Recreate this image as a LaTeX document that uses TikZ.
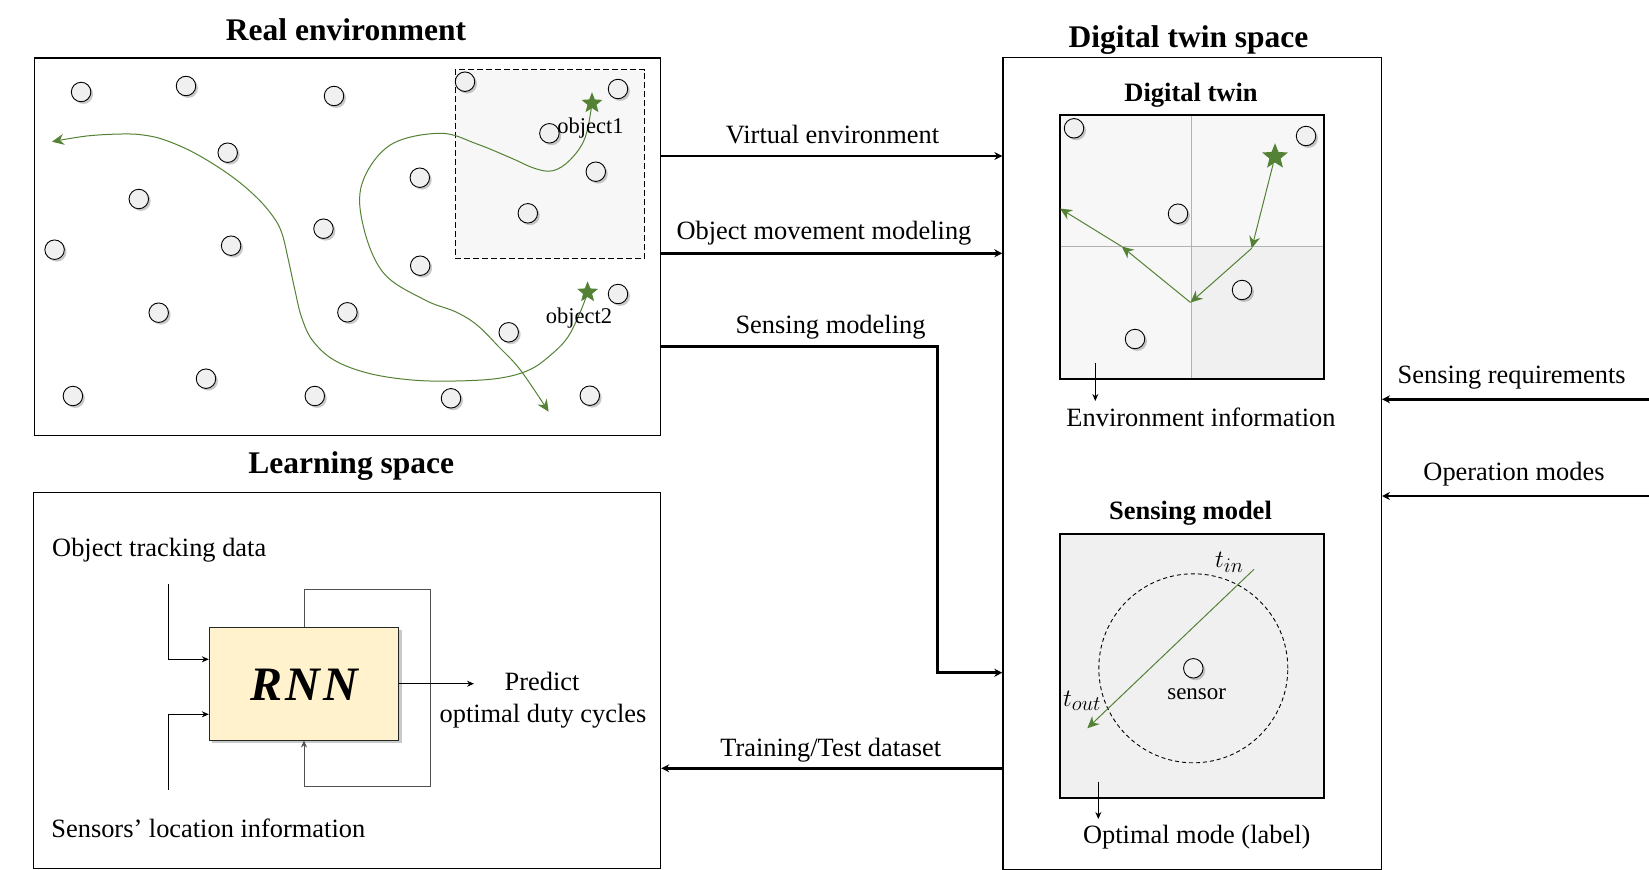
\documentclass[tikz,border=0pt]{standalone}
\usepackage{fontspec}
\setmainfont{Liberation Serif}
\usetikzlibrary{shapes.geometric,arrows.meta,shadows}

\definecolor{pathgreen}{RGB}{84,130,53}
\definecolor{rnnfill}{RGB}{255,242,204}
\definecolor{loopgray}{RGB}{80,80,80}

\tikzset{
  lbl/.style={font=\fontsize{26.4}{30}\selectfont, inner sep=0pt, anchor=base},
  ttl/.style={font=\fontsize{31.5}{36}\selectfont\bfseries, inner sep=0pt, anchor=base},
  subttl/.style={font=\fontsize{26.5}{30}\selectfont\bfseries, inner sep=0pt, anchor=base},
  small/.style={font=\fontsize{22.5}{26}\selectfont, inner sep=0pt, anchor=base},
  panel/.style={draw=black, line width=1.2pt, inner sep=0pt, anchor=north west},
  sens/.style={circle, draw=black, line width=0.9pt, fill=black!6, minimum size=19.5pt, inner sep=0pt,
    drop shadow={shadow xshift=2.2pt, shadow yshift=-2.2pt, opacity=0.35, fill=black!60}},
  obj/.style={star, star points=5, star point ratio=2.3, fill=pathgreen, draw=none, minimum size=22pt, inner sep=0pt},
  track/.style={draw=pathgreen, line width=1pt, -{Stealth[length=12pt,width=11pt,inset=4pt]}},
  bigarrow/.style={draw=black, line width=2.7pt, -{Stealth[length=8pt,width=8pt]}},
  thinarrow/.style={draw=black, line width=1pt, -{Stealth[length=7pt,width=6pt]}},
  mathlbl/.style={font=\fontsize{30}{34}\selectfont, inner sep=0pt, anchor=base},
}

\begin{document}
\begin{tikzpicture}[x=1pt, y=-1pt]
\useasboundingbox[fill=white] (0,0) rectangle (1649,870);

% ---------------- Real environment ----------------
\node[ttl] (realttl) at (346,40) {Real environment};
\node[panel, fill=white, minimum width=626.5pt, minimum height=377.5pt] (realbox) at (33.5,57.3) {};
\node[draw=black, dashed, dash pattern=on 6pt off 3pt, line width=0.9pt, fill=black!3,
  minimum width=189.5pt, minimum height=189pt, inner sep=0pt, anchor=north west] (zone) at (454.9,69.3) {};

\foreach \i/\px/\py in {
  1/81.1/92, 2/186/86, 3/334/96, 4/465/81.7, 5/618/89, 6/549.4/133.3,
  7/227.7/152.7, 8/595.8/171.7, 9/419.8/177.7, 10/138.8/199, 11/527.8/213.3,
  12/323.5/228.7, 13/54.6/249.7, 14/231.1/245.7, 15/420.2/265.7, 16/618/294,
  17/158.7/312.7, 18/347.4/312.3, 19/508.7/332.3, 20/206/378.7, 21/72.9/396,
  22/314.8/396, 23/451/398.3, 24/589.8/395.7}
  \node[sens] (r\i) at (\px,\py) {};

% trajectories of the two tracked objects
\draw[track] plot[smooth, tension=0.6] coordinates {
  (592,103.3) (585,138) (570,160) (553,170.7) (535,168.5) (511.7,158.3) (477,144)
  (440.2,133.3) (390.3,145) (362.1,183.3) (363.4,226.7) (383.8,273.3) (425,300)
  (455.3,311.7) (477,325) (498.7,346.7) (520.4,370) (548.6,411.7)};
\draw[track] plot[smooth, tension=0.6] coordinates {
  (587.6,292.3) (581.1,310) (568.1,336.7) (550.7,355) (529.1,370) (498.7,378.3)
  (455.3,381) (412,380) (368.6,373.3) (333.9,360) (312.2,340) (301.4,316.7)
  (294.9,290) (288.4,260) (281.9,233.3) (273.2,216.7) (255.9,196.7) (229.8,175)
  (195.1,153.3) (164.8,140) (143.1,135) (121.4,134) (86.7,136) (52,141.7)};
\node[obj] (obj1) at (592,103.3) {};
\node[obj] (obj2) at (587.6,292.3) {};
\node[small] (obj1lbl) at (590.6,133.3) {object1};
\node[small] (obj2lbl) at (579,323.3) {object2};

% ---------------- Digital twin space ----------------
\node[ttl] (twinttl) at (1188.5,47) {Digital twin space};
\node[panel, minimum width=378.5pt, minimum height=812pt] (twinbox) at (1002.3,56.5) {};

\node[subttl] (dtttl) at (1191,101.7) {Digital twin};
\fill[black!3] (1059.3,114.3) rectangle (1323.3,378.3);
\fill[black!6] (1191.3,246.3) rectangle (1323.3,378.3);
\draw[black!30, line width=1pt] (1191.3,114.3) -- (1191.3,378.3) (1059.3,246.3) -- (1323.3,246.3);
\node[panel, minimum width=264pt, minimum height=264pt] (dtbox) at (1059.3,114.3) {};

\foreach \i/\px/\py in {1/1074/128.3, 2/1306/136, 3/1178/213.7, 4/1242/290, 5/1135/339}
  \node[sens] (d\i) at (\px,\py) {};
\node[obj, minimum size=27pt] (dtstar) at (1275,156.7) {};
\coordinate (w1) at (1251.7,248.3);
\coordinate (w2) at (1190.5,302.5);
\coordinate (w3) at (1121.7,246.5);
\coordinate (w4) at (1060,208.5);
\draw[track] (dtstar) -- (w1);
\draw[track] (w1) -- (w2);
\draw[track] (w2) -- (w3);
\draw[track] (w3) -- (w4);

\coordinate (envsrc) at (1095.3,363.3);
\node[lbl] (envinfo) at (1201,426) {Environment information};
\draw[thinarrow] (envsrc) -- (1095.3,401);

\node[subttl] (smttl) at (1190.5,519.3) {Sensing model};
\node[panel, fill=black!6, minimum width=264pt, minimum height=264pt] (smbox) at (1059.3,533.3) {};
\node[circle, draw=black, dashed, dash pattern=on 4pt off 3pt, line width=0.9pt, minimum size=189pt, inner sep=0pt]
  (range) at (1193.3,668.3) {};
\node[sens] (sensor) at (1193.3,668.3) {};
\node[font=\fontsize{23}{26}\selectfont, inner sep=0pt, anchor=base] (sensorlbl) at (1196.7,699.3) {sensor};
\coordinate (tinpt) at (1254,569.3);
\coordinate (toutpt) at (1087.3,728.3);
\draw[track] (tinpt) -- (toutpt);
\node[mathlbl] (tin) at (1229.3,567) {$t_{in}$};
\node[mathlbl] (tout) at (1082,706) {$t_{out}$};

\coordinate (modesrc) at (1098.3,781.7);
\node[lbl] (optmode) at (1196.7,843.3) {Optimal mode (label)};
\draw[thinarrow] (modesrc) -- (1098.3,819);

% ---------------- Learning space ----------------
\node[ttl] (learnttl) at (351.3,473.3) {Learning space};
\node[panel, minimum width=627.5pt, minimum height=376.5pt] (learnbox) at (32.5,491.7) {};

\node[lbl, anchor=base west] (trackdata) at (52,556.7) {Object tracking data};
\node[lbl, anchor=base west] (locinfo) at (51.2,837.7) {Sensors' location information};

\node[draw=black!85, line width=1pt, fill=rnnfill, minimum width=189.3pt, minimum height=112.7pt, inner sep=0pt,
  drop shadow={shadow xshift=3pt, shadow yshift=-3pt, opacity=0.35, fill=black!60}] (rnn) at (304,683.7) {};
\node[font=\fontsize{48}{52}\selectfont\bfseries\itshape, inner sep=0pt, anchor=base] (rnnlbl) at (304,700) {R\kern3pt N\kern3pt N};

\coordinate (in1) at (168.3,584.3);
\coordinate (in2) at (168.3,790);
\draw[thinarrow] (in1) |- (rnn.west |- 0,659.3);
\draw[thinarrow] (in2) |- (rnn.west |- 0,714.3);
\draw[thinarrow, draw=loopgray] (rnn.north) -- (304,589) -| (430.6,786) -| (rnn.south);

\node[lbl] (predict) at (542,690.7) {Predict};
\node[lbl] (duty) at (543,722.7) {optimal duty cycles};
\draw[thinarrow] (rnn.east) -- (474,683.7);

% ---------------- Connectors between spaces ----------------
\node[lbl] (venvlbl) at (832.5,143.3) {Virtual environment};
\draw[bigarrow] (realbox.east |- 0,156) -- (twinbox.west |- 0,156);
\node[lbl] (omlbl) at (824,239.3) {Object movement modeling};
\draw[bigarrow] (realbox.east |- 0,253.3) -- (twinbox.west |- 0,253.3);
\node[lbl] (smlbl) at (830.5,333.3) {Sensing modeling};
\draw[bigarrow] (realbox.east |- 0,346.7) -| (937.7,672.7) -- (twinbox.west |- 0,672.7);
\node[lbl] (tdlbl) at (830.8,756.7) {Training/Test dataset};
\draw[bigarrow] (twinbox.west |- 0,768.3) -- (learnbox.east |- 0,768.3);

\coordinate (reqsrc) at (1649,399.3);
\coordinate (modesin) at (1649,496);
\node[lbl] (reqlbl) at (1511.7,383.3) {Sensing requirements};
\draw[bigarrow] (reqsrc) -- (twinbox.east |- reqsrc);
\node[lbl] (opmlbl) at (1514,480.7) {Operation modes};
\draw[bigarrow] (modesin) -- (twinbox.east |- modesin);
\end{tikzpicture}
\end{document}
